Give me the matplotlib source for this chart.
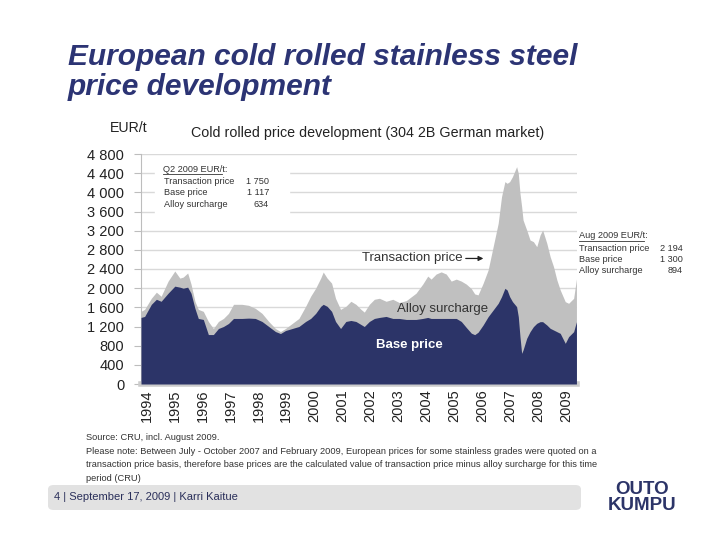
import matplotlib
matplotlib.use('Agg')
import matplotlib.pyplot as plt
from matplotlib.patches import FancyBboxPatch, Rectangle
from matplotlib.lines import Line2D

plt.rcParams['font.family'] = ['Liberation Sans', 'DejaVu Sans']

# price data (EUR/t), decimal years
years = [1994.00, 1994.13, 1994.37, 1994.55, 1994.72, 1994.97, 1995.21, 1995.39,
         1995.51, 1995.67, 1995.79, 1995.93, 1996.05, 1996.23, 1996.41, 1996.59,
         1996.77, 1996.95, 1997.13, 1997.31, 1997.61, 1997.85, 1998.09, 1998.33,
         1998.57, 1998.81, 1998.99, 1999.17, 1999.41, 1999.65, 1999.89, 2000.07,
         2000.25, 2000.43, 2000.52, 2000.66, 2000.82, 2000.96, 2001.14, 2001.33,
         2001.51, 2001.69, 2001.87, 2001.99, 2002.17, 2002.35, 2002.53, 2002.77,
         2003.01, 2003.24, 2003.49, 2003.84, 2004.08, 2004.26, 2004.38, 2004.56,
         2004.74, 2004.92, 2005.10, 2005.28, 2005.46, 2005.64, 2005.82, 2005.94,
         2006.06, 2006.24, 2006.42, 2006.60, 2006.78, 2006.90, 2007.02, 2007.10,
         2007.19, 2007.29, 2007.44, 2007.50, 2007.56, 2007.62, 2007.67, 2007.80,
         2007.92, 2008.04, 2008.16, 2008.28, 2008.37, 2008.52, 2008.64, 2008.76,
         2008.88, 2009.00, 2009.18, 2009.30, 2009.48, 2009.58]
base_price = [1389, 1410, 1663, 1768, 1726, 1895, 2042, 2021,
              2000, 2021, 1895, 1579, 1368, 1347, 1032, 1032,
              1158, 1200, 1263, 1368, 1368, 1375, 1368, 1305,
              1200, 1095, 1053, 1116, 1158, 1200, 1305, 1368,
              1474, 1621, 1663, 1621, 1516, 1305, 1158, 1305,
              1326, 1305, 1242, 1200, 1305, 1368, 1389, 1410,
              1368, 1368, 1347, 1347, 1368, 1389, 1368, 1368,
              1368, 1368, 1368, 1368, 1305, 1179, 1060, 1030,
              1080, 1231, 1405, 1544, 1684, 1823, 1997, 1962,
              1823, 1720, 1614, 1405, 988, 640, 710, 953,
              1092, 1197, 1266, 1301, 1301, 1231, 1162, 1127,
              1092, 1057, 849, 988, 1092, 1300]
transaction_price = [1516, 1558, 1789, 1916, 1831, 2147, 2358, 2210,
                     2231, 2316, 2084, 1726, 1558, 1516, 1305, 1158,
                     1305, 1368, 1474, 1663, 1663, 1642, 1579, 1474,
                     1305, 1158, 1095, 1158, 1263, 1368, 1621, 1831,
                     2000, 2210, 2337, 2210, 2105, 1789, 1558, 1621,
                     1726, 1663, 1558, 1500, 1663, 1768, 1789, 1726,
                     1768, 1700, 1740, 1895, 2084, 2252, 2189, 2295,
                     2340, 2295, 2147, 2189, 2147, 2084, 1990, 1880,
                     1860, 2101, 2379, 2866, 3353, 3910, 4223, 4188,
                     4223, 4327, 4536, 4397, 3979, 3701, 3423, 3214,
                     3005, 2971, 2866, 3110, 3214, 2936, 2657, 2449,
                     2171, 1962, 1718, 1684, 1788, 2194]

year_labels = [str(y) for y in range(1994, 2010)]
y_ticks = list(range(0, 4801, 400))

q2_rows = [('Transaction price', '1 750'), ('Base price', '1 117'), ('Alloy surcharge', '634')]
aug_rows = [('Transaction price', '2 194'), ('Base price', '1 300'), ('Alloy surcharge', '894')]

navy = '#2c3468'
alloy_grey = '#c0c0c0'
title_blue = '#2c3474'

W, H = 715, 547
fig = plt.figure(figsize=(W / 100, H / 100), dpi=100)
fig.patch.set_facecolor('white')


def fx(px):
    return px / W


def fy(py):
    return 1 - py / H


ax = fig.add_axes([fx(141), fy(384), fx(577) - fx(141), fy(154) - fy(384)])
ax.set_xlim(1994.0, 2009.6)
ax.set_ylim(0, 4800)

ax.fill_between(years, 0, transaction_price, color=alloy_grey, lw=0, zorder=2)
ax.fill_between(years, 0, base_price, color=navy, lw=0, zorder=3)

ax.set_yticks(y_ticks)
ax.set_yticklabels([f'{v:,}'.replace(',', ' ') for v in y_ticks], fontsize=10.5, color='#222222')
# year labels sit a little right of the January position in the original
ax.set_xticks([y + 0.2 for y in range(1994, 2010)])
ax.set_xticklabels(year_labels, rotation=90, fontsize=10.5, color='#222222')
ax.grid(axis='y', color='#d9d9d9', lw=1, zorder=0)
ax.set_axisbelow(True)
for s in ['top', 'right']:
    ax.spines[s].set_visible(False)
ax.spines['left'].set_color('#bdbdbd')
ax.spines['bottom'].set_color('#cccccc')
ax.spines['bottom'].set_linewidth(4)
ax.tick_params(axis='y', length=5, color='#bdbdbd', pad=7)
ax.tick_params(axis='x', length=3, color='white', direction='in', pad=4)

# white box for Q2 2009 figures
ax.add_patch(Rectangle((1994.5, 3380), 4.8, 1300, color='white', zorder=1))
fig.text(fx(163), fy(169), 'Q2 2009 EUR/t:', fontsize=6.6, va='center', color='#333333')
fig.add_artist(Line2D([fx(163), fx(222)], [fy(173.5), fy(173.5)], color='#333333', lw=0.6))
for i, (name, val) in enumerate(q2_rows):
    yy = fy(181 + i * 11.5)
    fig.text(fx(164), yy, name, fontsize=6.6, va='center', color='#333333')
    fig.text(fx(269), yy, val, fontsize=6.6, va='center', ha='right', color='#333333')

# Aug 2009 figures, right of the chart
fig.text(fx(579), fy(236), 'Aug 2009 EUR/t:', fontsize=6.6, va='center', color='#333333')
fig.add_artist(Line2D([fx(579), fx(644)], [fy(240.5), fy(240.5)], color='#333333', lw=0.6))
for i, (name, val) in enumerate(aug_rows):
    yy = fy(248.5 + i * 11.2)
    fig.text(fx(579), yy, name, fontsize=6.6, va='center', color='#333333')
    fig.text(fx(683), yy, val, fontsize=6.6, va='center', ha='right', color='#333333')

# area labels
ax.annotate('Transaction price', xy=(2006.25, 2620), xytext=(2005.52, 2620),
            fontsize=9.5, color='#333333', ha='right', va='center', zorder=5,
            arrowprops=dict(arrowstyle='-|>', color='#222222', lw=0.9,
                            mutation_scale=7, shrinkA=0, shrinkB=0))
ax.text(2004.8, 1560, 'Alloy surcharge', fontsize=9.5, color='#333333',
        ha='center', va='center', zorder=5)
ax.text(2003.6, 810, 'Base price', fontsize=9.5, color='white', fontweight='bold',
        ha='center', va='center', zorder=5)

# titles
fig.text(fx(68), fy(57), 'European cold rolled stainless steel', fontsize=21.5,
         fontweight='bold', fontstyle='italic', color=title_blue, va='center')
fig.text(fx(68), fy(87), 'price development', fontsize=21.5,
         fontweight='bold', fontstyle='italic', color=title_blue, va='center')
fig.text(fx(110), fy(128), 'EUR/t', fontsize=10.2, color='#222222', va='center')
fig.text(fx(368), fy(133), 'Cold rolled price development (304 2B German market)',
         fontsize=10.3, color='#222222', va='center', ha='center')

# notes
fig.text(fx(86), fy(437), 'Source: CRU, incl. August 2009.', fontsize=6.7,
         color='#333333', va='center')
note = ('Please note: Between July - October 2007 and February 2009, European prices for some stainless grades were quoted on a\n'
        'transaction price basis, therefore base prices are the calculated value of transaction price minus alloy surcharge for this time\n'
        'period (CRU)')
fig.text(fx(86), fy(447), note, fontsize=6.7, color='#333333', va='top', linespacing=1.62)

# footer
fig.add_artist(FancyBboxPatch((fx(48), fy(510)), fx(581) - fx(48), fy(485) - fy(510),
                              boxstyle='round,pad=0,rounding_size=0.008',
                              transform=fig.transFigure, fc='#e2e2e2', ec='none'))
fig.text(fx(54), fy(497), '4 | September 17, 2009 | Karri Kaitue', fontsize=8,
         color='#2a2f5a', va='center')
fig.text(fx(642), fy(489), 'OUTO', fontsize=13.5, fontweight='bold', color=navy,
         ha='center', va='center')
fig.text(fx(642), fy(506), 'KUMPU', fontsize=13.5, fontweight='bold', color=navy,
         ha='center', va='center')

fig.savefig('out.png', dpi=100)
